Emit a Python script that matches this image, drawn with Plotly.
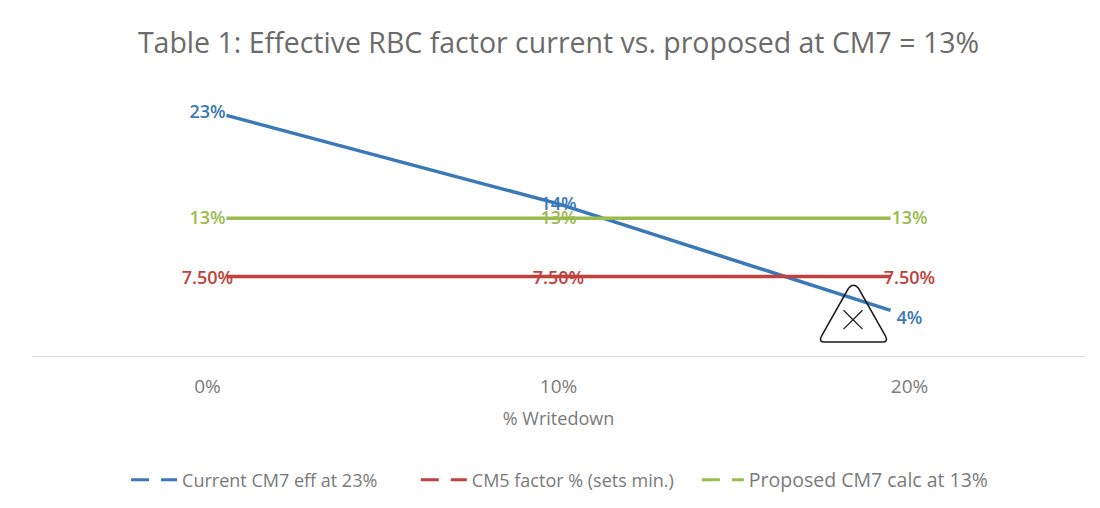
import plotly.graph_objects as go

TITLE = "Table 1: Effective RBC factor current vs. proposed at CM7 = 13%"
FONT = "Open Sans"
BLUE = "#3a78b8"
RED = "#c0413d"
GREEN = "#9bbb4f"
GREY = "#7a7a7a"

# category positions (% writedown)
writedown = [0, 10, 20]
tick_labels = ["0%", "10%", "20%"]

# lines stop short of the outer labels, like in the source chart
line_x = [0.54, 10, 19.46]
current_cm7 = [22.7, 14.35, 4.3]
cm5_factor = [7.5, 7.5, 7.5]
proposed_cm7 = [13, 13, 13]

# data label positions and text
current_label_y = [22.9, 14.2, 3.4]
cm5_label_y = [7.2, 7.2, 7.2]
proposed_label_y = [12.9, 12.9, 12.9]
current_labels = ["23%", "14%", "4%"]
cm5_labels = ["7.50%", "7.50%", "7.50%"]
proposed_labels = ["13%", "13%", "13%"]

series = [
    ("Current CM7 eff at 23%", current_cm7, current_label_y, current_labels, BLUE, "legend"),
    ("CM5 factor % (sets min.)", cm5_factor, cm5_label_y, cm5_labels, RED, "legend2"),
    ("Proposed CM7 calc at 13%", proposed_cm7, proposed_label_y, proposed_labels, GREEN, "legend3"),
]

fig = go.Figure()

for name, values, label_y, labels, color, legend_id in series:
    fig.add_trace(go.Scatter(
        x=line_x, y=values, mode="lines", showlegend=False,
        line=dict(color=color, width=3.5)
    ))
    fig.add_trace(go.Scatter(
        x=writedown, y=label_y, mode="text", text=labels, showlegend=False,
        textposition="middle center",
        textfont=dict(family=FONT, size=18, color=color, weight=600)
    ))
    # legend sample only, dashed
    fig.add_trace(go.Scatter(
        x=[None], y=[None], mode="lines", name=name, legend=legend_id,
        line=dict(color=color, width=3, dash="18px,12px,100px")
    ))


def px_x(px):
    return (px - 207) / 35.1


def px_y(px):
    return (356 - px) / 10.64


# the hand-drawn triangle with a cross over the last point
tri = (
    f"M {px_x(848)} {px_y(288)} Q {px_x(853)} {px_y(282)} {px_x(858)} {px_y(288)} "
    f"L {px_x(885)} {px_y(336)} Q {px_x(888)} {px_y(342)} {px_x(882)} {px_y(342)} "
    f"L {px_x(824)} {px_y(342)} Q {px_x(818)} {px_y(342)} {px_x(821)} {px_y(336)} Z"
)
fig.add_shape(type="path", path=tri, line=dict(color="#1a1a1a", width=1.5))
fig.add_shape(type="line", x0=px_x(843), y0=px_y(310), x1=px_x(862), y1=px_y(329),
              line=dict(color="#1a1a1a", width=1.3))
fig.add_shape(type="line", x0=px_x(843), y0=px_y(329), x1=px_x(862), y1=px_y(310),
              line=dict(color="#1a1a1a", width=1.3))


def legend_at(x, size=18, itemwidth=46):
    return dict(
        orientation="h", x=x, xref="container", xanchor="left",
        y=0.055, yref="container", yanchor="middle",
        itemwidth=itemwidth, font=dict(size=size, color=GREY)
    )


fig.update_layout(
    width=1100,
    height=508,
    margin=dict(l=32, r=15, t=91, b=152),
    plot_bgcolor="white",
    paper_bgcolor="white",
    font=dict(family=FONT, color=GREY),
    title=dict(text=TITLE, x=0.5077, xanchor="center", y=0.916, yanchor="middle",
               font=dict(family=FONT, size=28.5, color="#6b6b6b")),
    xaxis=dict(
        range=[-5, 25], tickvals=writedown, ticktext=tick_labels, showgrid=False,
        zeroline=False, showline=True, linecolor="#d9d9d9", linewidth=1,
        tickfont=dict(size=19, color=GREY), ticks="", ticklen=0, ticklabelstandoff=13,
        title=dict(text="% Writedown", font=dict(size=18, color=GREY), standoff=14)
    ),
    yaxis=dict(range=[0, 25], visible=False),
    legend=legend_at(0.1146),
    legend2=legend_at(0.378),
    legend3=legend_at(0.6335, size=19.5, itemwidth=42),
)

fig.write_html("out.html", config=dict(displayModeBar=False),
               post_script="document.body.style.margin='0';")
